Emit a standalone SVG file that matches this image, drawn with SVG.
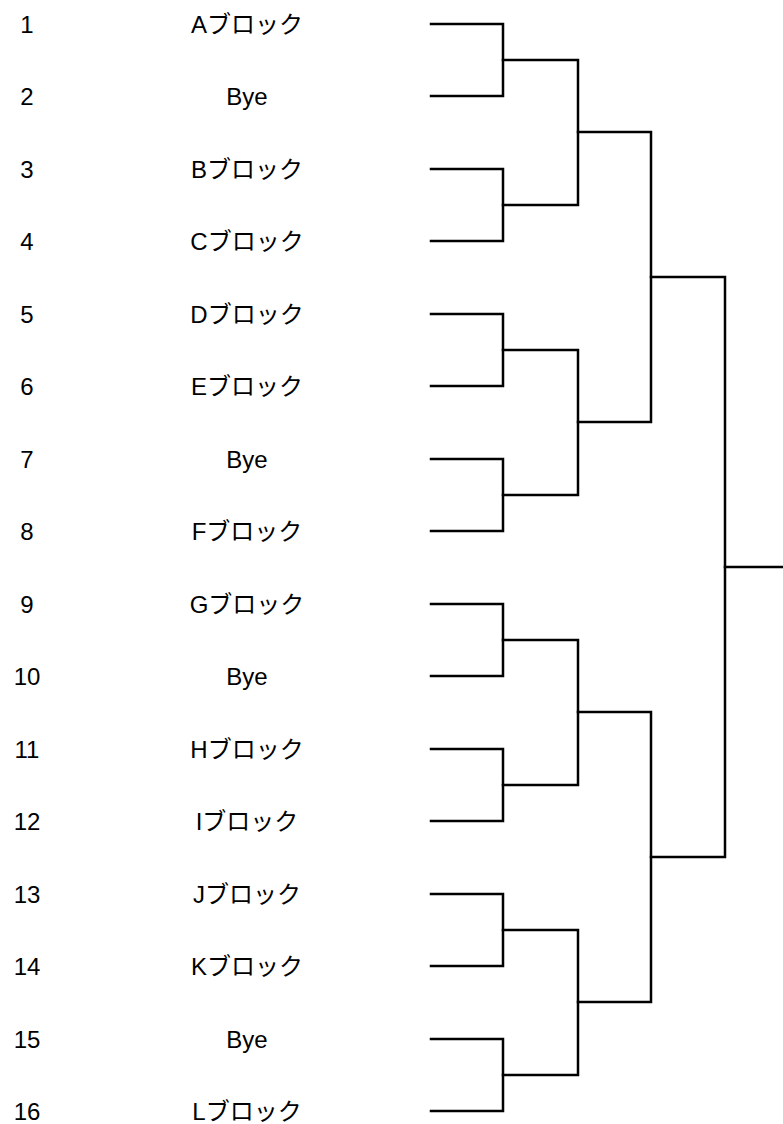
<svg xmlns="http://www.w3.org/2000/svg" width="783" height="1124" viewBox="0 0 783 1124">
<style>
.num{font-family:"Liberation Sans","Noto Sans CJK JP",sans-serif;font-size:24px;fill:#000;text-anchor:middle}
.name{font-family:"Liberation Sans","Noto Sans CJK JP",sans-serif;font-size:24px;fill:#000;text-anchor:middle}
.br{fill:none;stroke:#000;stroke-width:2.5;stroke-linejoin:miter;stroke-linecap:square}
</style>
<rect width="783" height="1124" fill="#fff"/>
<g id="seed1"><text class="num" x="27" y="33">1</text><text class="name" x="247" y="33">Aブロック</text></g>
<g id="seed2"><text class="num" x="27" y="105">2</text><text class="name" x="247" y="105">Bye</text></g>
<g id="seed3"><text class="num" x="27" y="178">3</text><text class="name" x="247" y="178">Bブロック</text></g>
<g id="seed4"><text class="num" x="27" y="250">4</text><text class="name" x="247" y="250">Cブロック</text></g>
<g id="seed5"><text class="num" x="27" y="323">5</text><text class="name" x="247" y="323">Dブロック</text></g>
<g id="seed6"><text class="num" x="27" y="395">6</text><text class="name" x="247" y="395">Eブロック</text></g>
<g id="seed7"><text class="num" x="27" y="468">7</text><text class="name" x="247" y="468">Bye</text></g>
<g id="seed8"><text class="num" x="27" y="540">8</text><text class="name" x="247" y="540">Fブロック</text></g>
<g id="seed9"><text class="num" x="27" y="613">9</text><text class="name" x="247" y="613">Gブロック</text></g>
<g id="seed10"><text class="num" x="27" y="685">10</text><text class="name" x="247" y="685">Bye</text></g>
<g id="seed11"><text class="num" x="27" y="758">11</text><text class="name" x="247" y="758">Hブロック</text></g>
<g id="seed12"><text class="num" x="27" y="830">12</text><text class="name" x="247" y="830">Iブロック</text></g>
<g id="seed13"><text class="num" x="27" y="903">13</text><text class="name" x="247" y="903">Jブロック</text></g>
<g id="seed14"><text class="num" x="27" y="975">14</text><text class="name" x="247" y="975">Kブロック</text></g>
<g id="seed15"><text class="num" x="27" y="1048">15</text><text class="name" x="247" y="1048">Bye</text></g>
<g id="seed16"><text class="num" x="27" y="1120">16</text><text class="name" x="247" y="1120">Lブロック</text></g>
<g id="connectors" class="br">
<path class="br" d="M431,24H503V96H431M431,169H503V241H431M431,314H503V386H431M431,459H503V531H431M431,604H503V676H431M431,749H503V821H431M431,894H503V966H431M431,1039H503V1111H431"/>
<path class="br" d="M503,60H578V205H503M503,350H578V495H503M503,640H578V785H503M503,930H578V1075H503"/>
<path class="br" d="M578,132H651V422H578M578,712H651V1002H578"/>
<path class="br" d="M651,277H725V857H651"/>
<path class="br" d="M725,567H784"/>
</g>
</svg>
